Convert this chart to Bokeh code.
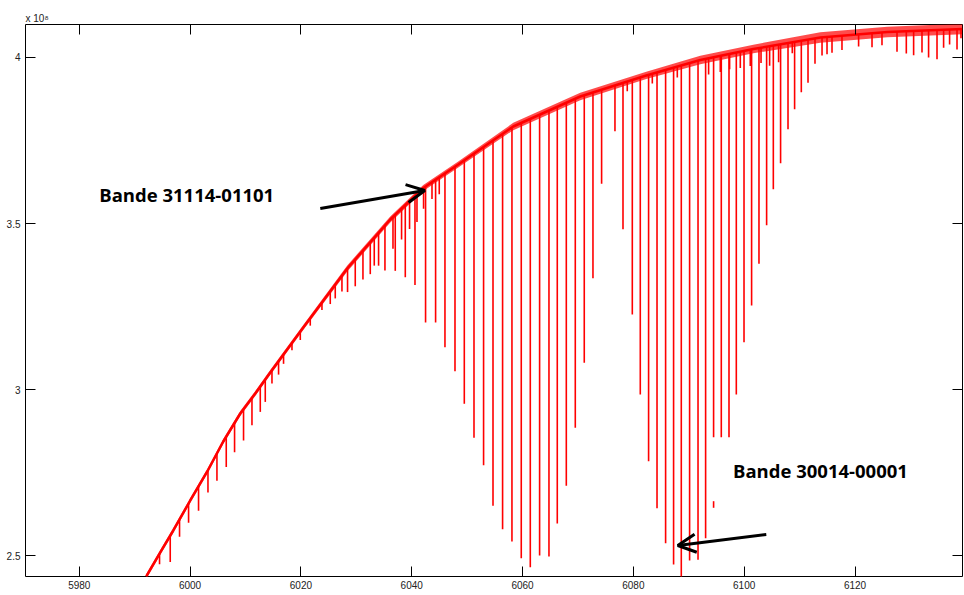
import numpy as np
from bokeh.plotting import figure
from bokeh.models import LinearAxis, FixedTicker, Label, Arrow, OpenHead, CustomJSTickFormatter
from bokeh.embed import file_html
from bokeh.resources import INLINE

# ---------------- data (y in units of 1e8) ----------------
# noisy continuum band: centre, upper and lower envelope
cont_x = [5992.09, 5994.62, 5996.97, 6000.03, 6003.10, 6005.99, 6009.06, 6011.77, 6014.47,
          6020.43, 6028.37, 6036.13, 6042.09, 6048.40, 6058.33, 6070.42, 6082.33, 6092.08,
          6101.65, 6113.74, 6125.83, 6139.37]
cont_mid = [2.4377, 2.5100, 2.5762, 2.6665, 2.7538, 2.8441, 2.9284, 2.9886, 3.0518,
            3.1873, 3.3649, 3.5124, 3.6072, 3.6779, 3.7923, 3.8826, 3.9459, 3.9925,
            4.0256, 4.0603, 4.0768, 4.0858]
cont_upper = [2.4452, 2.5175, 2.5837, 2.6740, 2.7613, 2.8516, 2.9359, 2.9961, 3.0593,
              3.1948, 3.3739, 3.5214, 3.6162, 3.6869, 3.8033, 3.8936, 3.9569, 4.0055,
              4.0386, 4.0763, 4.0928, 4.1018]
cont_lower = [2.4302, 2.5025, 2.5687, 2.6590, 2.7463, 2.8366, 2.9209, 2.9811, 3.0443,
              3.1798, 3.3559, 3.5034, 3.5982, 3.6689, 3.7813, 3.8716, 3.9349, 3.9795,
              4.0126, 4.0443, 4.0608, 4.0698]

# strong absorption lines (band 30014-00001): position and minimum
strong_x = [6042.50, 6044.31, 6046.00, 6047.81, 6049.49, 6051.24, 6052.97, 6054.67, 6056.40,
            6058.09, 6059.77, 6061.40, 6063.08, 6064.77, 6066.27, 6067.90, 6069.52, 6071.14,
            6072.71, 6074.27, 6076.68, 6078.13, 6079.81, 6081.25, 6082.75, 6084.27, 6085.82,
            6087.26, 6088.65, 6090.15, 6091.67, 6093.04, 6094.48, 6095.87, 6097.26, 6098.58,
            6099.97, 6101.34, 6102.67, 6104.05, 6105.26, 6106.57, 6107.91, 6109.10, 6110.31,
            6111.52, 6112.78]
strong_min = [3.2023, 3.2023, 3.1279, 3.0557, 2.9576, 2.8552, 2.7727, 2.6505, 2.5801,
              2.5431, 2.4928, 2.4657, 2.5009, 2.4979, 2.5972, 2.7107, 2.8853, 3.0810,
              3.3356, 3.6198, 3.7781, 3.4831, 3.2264, 2.9856, 2.7848, 2.6433, 2.5379,
              2.4738, 2.4300, 2.4859, 2.4880, 2.5530, 2.8570, 2.8570, 2.8570, 2.9856,
              3.1430, 3.2535, 3.3790, 3.4952, 3.6036, 3.6818, 3.7842, 3.8444, 3.8955,
              3.9238, 3.9810]

# weak lines (band 31114-01101 and others): position and depth below the band
weak_x = [5994.49, 5996.42, 5998.10, 5999.73, 6001.53, 6003.23, 6004.85, 6006.53, 6008.03,
          6009.65, 6011.17, 6012.67, 6013.57, 6014.78, 6015.97, 6016.87, 6018.39, 6019.89,
          6021.69, 6023.80, 6025.30, 6026.20, 6027.41, 6028.42, 6029.81, 6031.20, 6032.52,
          6033.24, 6034.02, 6035.17, 6036.62, 6037.03, 6038.17, 6038.84, 6039.61, 6040.59,
          6040.95, 6042.14, 6043.66, 6044.97,
          6078.90, 6083.42, 6087.93, 6093.58, 6095.69, 6097.37, 6099.30, 6101.10, 6103.04,
          6104.59, 6106.21, 6108.68, 6114.05, 6114.95, 6115.85, 6117.65, 6120.65, 6123.07,
          6124.87, 6127.58, 6129.26, 6130.58, 6132.09, 6133.28, 6134.80, 6135.99, 6137.07,
          6138.41, 6139.13]
weak_depth = [0.024, 0.072, 0.045, 0.051, 0.066, 0.060, 0.075, 0.084, 0.081,
              0.087, 0.075, 0.069, 0.060, 0.033, 0.033, 0.021, 0.015, 0.018,
              0.015, 0.015, 0.030, 0.033, 0.039, 0.063, 0.072, 0.078, 0.087,
              0.075, 0.090, 0.126, 0.087, 0.160, 0.084, 0.208, 0.075, 0.259,
              0.075, 0.054, 0.042, 0.042,
              0.018, 0.018, 0.021, 0.036, 0.036, 0.033, 0.036, 0.036, 0.033,
              0.045, 0.039, 0.018, 0.039, 0.036, 0.033, 0.027, 0.021, 0.026,
              0.023, 0.045, 0.051, 0.057, 0.050, 0.066, 0.072, 0.038, 0.029,
              0.045, 0.012]

# isolated fragment of a line
frag_x = [6094.48]
frag_top = [2.6644]
frag_bottom = [2.6445]

x_ticks = [5980, 6000, 6020, 6040, 6060, 6080, 6100, 6120]
y_ticks = [2.5, 3.0, 3.5, 4.0]

# ---------------- figure ----------------
FONT = "Liberation Sans"
X0, X1 = 5970.3, 6139.4
Y0, Y1 = 2.4377, 4.0993
p = figure(width=964, height=595, x_range=(X0, X1), y_range=(Y0, Y1),
           output_backend="svg", toolbar_location=None,
           x_axis_location=None, y_axis_location=None,
           min_border_left=25, min_border_right=2, min_border_top=24, min_border_bottom=19)
p.grid.visible = False
p.outline_line_color = "black"
p.outline_line_width = 1
p.background_fill_color = "white"
p.border_fill_color = "white"

# exponent of the y axis, shown as the title
p.title.text = "x 10\u2078"
p.title.align = "left"
p.title.text_font = FONT
p.title.text_font_size = "10px"
p.title.text_font_style = "normal"
p.title.text_color = "#222222"
p.title.standoff = 2
p.title.offset = 0

RED = "#ff0000"
cx = np.array(cont_x)
cm = np.array(cont_mid)
cl = np.array(cont_lower)

# band
p.varea(x=cont_x, y1=cont_lower, y2=cont_upper, fill_color=RED, fill_alpha=0.7)
p.line(x=cont_x, y=cont_mid, line_color=RED, line_width=2.5)

# strong lines hang from the band
s_top = np.interp(np.array(strong_x), cx, cm)
p.segment(x0=strong_x, y0=list(s_top), x1=strong_x, y1=strong_min, line_color=RED, line_width=1.6)

wx = np.array(weak_x)
w_top = np.interp(wx, cx, cm)
w_bot = np.interp(wx, cx, cl) - np.array(weak_depth)
p.segment(x0=weak_x, y0=list(w_top), x1=weak_x, y1=list(w_bot), line_color=RED, line_width=1.6)

p.segment(x0=frag_x, y0=frag_top, x1=frag_x, y1=frag_bottom, line_color=RED, line_width=1.6)

# ---------------- axes ----------------
def style(ax, labels=True):
    ax.axis_line_color = None
    ax.major_tick_in = 10
    ax.major_tick_out = 0
    ax.minor_tick_line_color = None
    ax.major_tick_line_color = "black"
    ax.major_tick_line_width = 1
    ax.major_label_text_font = FONT
    ax.major_label_text_font_size = "10px"
    ax.major_label_text_color = "#222222" if labels else None
    ax.major_label_standoff = 3 if labels else 0

fmt = CustomJSTickFormatter(code="return tick.toString();")
blank = CustomJSTickFormatter(code="return '';")

bx = LinearAxis(ticker=FixedTicker(ticks=x_ticks))
style(bx); bx.major_label_standoff = 4
p.add_layout(bx, "below")
tx = LinearAxis(ticker=FixedTicker(ticks=x_ticks), formatter=blank)
style(tx, labels=False)
p.add_layout(tx, "above")
ly = LinearAxis(ticker=FixedTicker(ticks=y_ticks), formatter=fmt)
style(ly); ly.major_label_standoff = 5
p.add_layout(ly, "left")
ry = LinearAxis(ticker=FixedTicker(ticks=y_ticks), formatter=blank)
style(ry, labels=False)
p.add_layout(ry, "right")

# annotations
p.add_layout(Label(x=5983.61, y=3.5876, text="Bande 31114-01101", text_font="Open Sans",
                   text_font_style="bold", text_font_size="18.5px", text_color="black",
                   text_baseline="alphabetic"))
p.add_layout(Label(x=6097.98, y=2.7568, text="Bande 30014-00001", text_font="Open Sans",
                   text_font_style="bold", text_font_size="18.5px", text_color="black",
                   text_baseline="alphabetic"))

p.add_layout(Arrow(end=OpenHead(size=18, line_width=3, line_color="black"),
                   x_start=6023.50, y_start=3.5455, x_end=6042.36, y_end=3.5996,
                   line_width=3, line_color="black"))
p.add_layout(Arrow(end=OpenHead(size=18, line_width=3, line_color="black"),
                   x_start=6103.99, y_start=2.5641, x_end=6088.02, y_end=2.5310,
                   line_width=3, line_color="black"))

open("out.html", "w").write(file_html(p, INLINE))
